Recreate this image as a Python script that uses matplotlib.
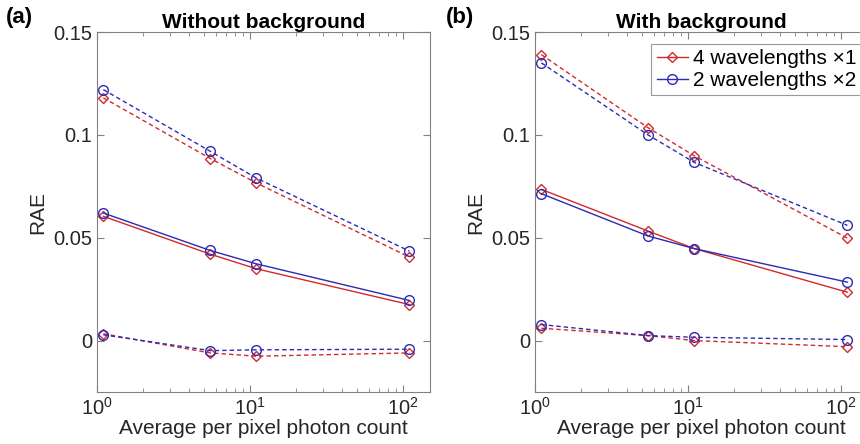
import numpy as np
from matplotlib import pyplot as plt

plt.rcParams['font.family'] = ['Liberation Sans', 'DejaVu Sans']
plt.rcParams['lines.dashed_pattern'] = [3.2, 2.2]

# photon counts (x) shared by both panels
counts = [1.1, 5.5, 11, 110]

# (a) without background: upper dashed, solid, lower dashed
a_red_hi = [0.118, 0.0885, 0.0766, 0.0406]
a_red_mid = [0.0604, 0.042, 0.0349, 0.0175]
a_red_lo = [0.0033, -0.006, -0.0076, -0.006]
a_blue_hi = [0.122, 0.092, 0.079, 0.0435]
a_blue_mid = [0.062, 0.0438, 0.0373, 0.0195]
a_blue_lo = [0.0028, -0.0049, -0.0045, -0.0042]

# (b) with background
b_red_hi = [0.139, 0.1034, 0.0898, 0.0498]
b_red_mid = [0.0735, 0.0532, 0.0447, 0.0235]
b_red_lo = [0.006, 0.0024, 0.0, -0.003]
b_blue_hi = [0.135, 0.0999, 0.0866, 0.056]
b_blue_mid = [0.0714, 0.0508, 0.0447, 0.0284]
b_blue_lo = [0.0078, 0.0024, 0.0016, 0.0005]

labels = ['4 wavelengths \u00d71', '2 wavelengths \u00d72']
red = '#d22a2a'
blue = '#2b2bb5'
gray = '#808080'
txt = '#262626'

fig = plt.figure(figsize=(8.6, 4.44), dpi=100)
ax1 = fig.add_axes([97/860, 1-392/444, 333/860, 360/444])
ax2 = fig.add_axes([535/860, 1-392/444, 333/860, 360/444])


def panel(ax, rh, rm, rl, bh, bm, bl, title):
    kw = dict(mfc='none', lw=1, mew=1)
    ax.plot(counts, rh, '--D', color=red, ms=5.5, **kw)
    ax.plot(counts, bh, '--o', color=blue, ms=7, **kw)
    ax.plot(counts, rm, '-D', color=red, ms=5.5, label=labels[0], **kw)
    ax.plot(counts, bm, '-o', color=blue, ms=7, label=labels[1], **kw)
    ax.plot(counts, rl, '--D', color=red, ms=5.5, **kw)
    ax.plot(counts, bl, '--o', color=blue, ms=7, **kw)
    ax.set_xscale('log')
    ax.set_xlim(1, 150)
    ax.set_ylim(-0.025, 0.15)
    ax.set_yticks([0, 0.05, 0.1, 0.15])
    ax.set_yticklabels(['0', '0.05', '0.1', '0.15'])
    ax.tick_params(which='both', direction='in', top=True, right=True,
                   colors=gray, labelcolor=txt, labelsize=14.5)
    ax.tick_params(which='major', length=5)
    ax.tick_params(which='minor', length=3)
    for s in ax.spines.values():
        s.set_color(gray)
    ax.set_title(title, fontsize=15, fontweight='bold', pad=3)
    ax.set_xlabel('Average per pixel photon count', fontsize=15, color=txt, labelpad=0)


panel(ax1, a_red_hi, a_red_mid, a_red_lo, a_blue_hi, a_blue_mid, a_blue_lo, 'Without background')
panel(ax2, b_red_hi, b_red_mid, b_red_lo, b_blue_hi, b_blue_mid, b_blue_lo, 'With background')
ax1.set_ylabel('RAE', fontsize=15, color=txt, labelpad=4)
ax2.set_ylabel('RAE', fontsize=15, color=txt, labelpad=4)

leg = ax2.legend(loc='upper right', bbox_to_anchor=(1.0, 0.985), fontsize=15, fancybox=False,
                 handlelength=1.5, handletextpad=0.25, borderpad=0.25, labelspacing=0.15,
                 borderaxespad=0.3)
leg.get_frame().set_edgecolor(gray)
leg.get_frame().set_linewidth(0.8)

fig.text(6/860, 1-17/444, '(a)', fontsize=16, fontweight='bold', va='center')
fig.text(446/860, 1-17/444, '(b)', fontsize=16, fontweight='bold', va='center')

fig.savefig('out.png', dpi=100)
